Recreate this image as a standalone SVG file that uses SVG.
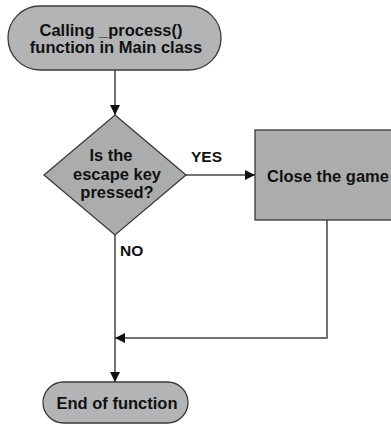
<svg xmlns="http://www.w3.org/2000/svg" width="391" height="424" viewBox="0 0 391 424">
  <style>
    .shape { fill: #abadad; stroke: #3a3a3a; stroke-width: 1.3; }
    .term { fill: #b2b4b5; stroke: #3a3a3a; stroke-width: 1.3; }
    .lbl { font-family: "Liberation Sans", Arial, sans-serif; font-weight: bold; font-size: 16.5px; fill: #111; text-anchor: middle; }
    .edge-lbl { font-family: "Liberation Sans", Arial, sans-serif; font-weight: bold; font-size: 15.5px; fill: #111; }
    .wire { fill: none; stroke: #444; stroke-width: 1.5; }
  </style>
  <defs>
    <marker id="arrow" viewBox="0 0 10 10" refX="10" refY="5" markerWidth="10" markerHeight="10" markerUnits="userSpaceOnUse" orient="auto">
      <path d="M0,0 L10,5 L0,10 Z" fill="#111"/>
    </marker>
  </defs>
  <rect width="391" height="424" fill="#ffffff"/>

  <g id="connectors">
    <line class="wire" x1="115" y1="70" x2="115" y2="115" marker-end="url(#arrow)"/>
    <line class="wire" x1="186" y1="175" x2="255" y2="175" marker-end="url(#arrow)"/>
    <line class="wire" x1="115" y1="235" x2="115" y2="382" marker-end="url(#arrow)"/>
    <polyline class="wire" points="327,220 327,338 115,338" marker-end="url(#arrow)"/>
    <text class="edge-lbl" x="191" y="162">YES</text>
    <text class="edge-lbl" x="120" y="256">NO</text>
  </g>

  <g id="start">
    <rect class="term" x="8" y="6" width="213" height="64" rx="32" ry="32"/>
    <text class="lbl" x="111" y="36">Calling _process()</text>
    <text class="lbl" x="116" y="53">function in Main class</text>
  </g>

  <g id="decision">
    <polygon class="shape" points="115,115 186,175 115,235 44,175"/>
    <text class="lbl" x="111" y="161">Is the</text>
    <text class="lbl" x="117" y="180">escape key</text>
    <text class="lbl" x="117" y="198">pressed?</text>
  </g>

  <g id="close-game">
    <rect class="shape" x="255" y="130" width="140" height="90"/>
    <text class="lbl" x="328" y="182">Close the game</text>
  </g>

  <g id="end">
    <rect class="term" x="43" y="382" width="145" height="41" rx="20.5" ry="20.5"/>
    <text class="lbl" x="117" y="409">End of function</text>
  </g>
</svg>
